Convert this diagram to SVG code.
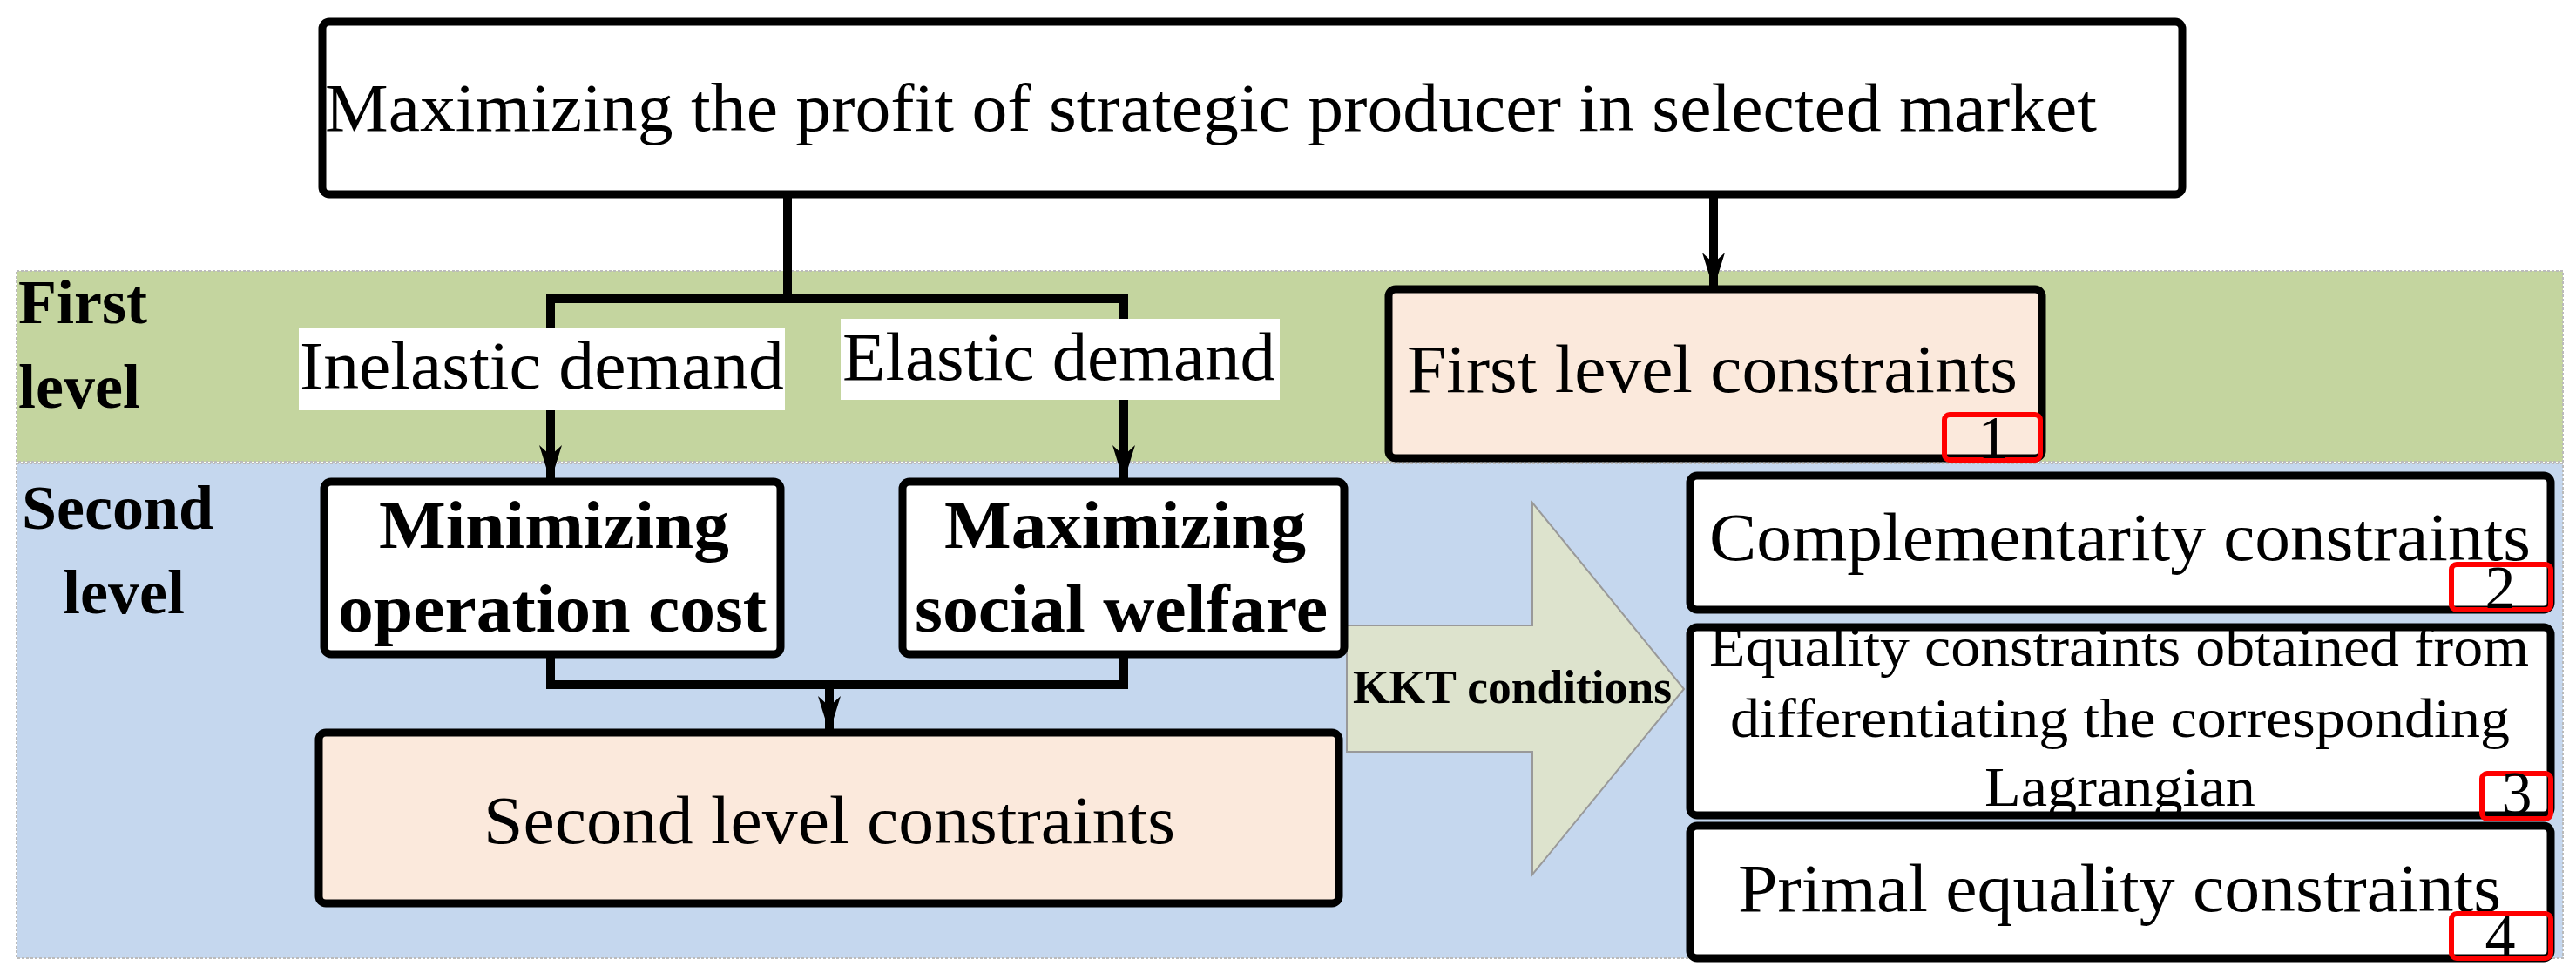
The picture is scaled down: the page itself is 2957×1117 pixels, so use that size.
<svg xmlns="http://www.w3.org/2000/svg" width="2957" height="1117" viewBox="0 0 2957 1117">
<style>
text{font-family:"Liberation Serif","Times New Roman",serif;fill:#000}
.b{fill:#fff;stroke:#000;stroke-width:9}
.p{fill:#fbe9dc;stroke:#000;stroke-width:9}
.r{fill:none;stroke:#f00;stroke-width:6}
.c{fill:none;stroke:#000;stroke-width:10}
.n{font-size:78px}
.bd{font-weight:bold}
</style>
<defs>
<marker id="ah" markerWidth="26" markerHeight="42" refX="13" refY="40" orient="0" markerUnits="userSpaceOnUse">
<path d="M0,0 L13,12 L26,0 L13,42 Z" fill="#000"/>
</marker>
</defs>
<rect x="19" y="311" width="2923" height="219" fill="#c4d59f" stroke="#bbb" stroke-width="2" stroke-dasharray="3,2"/>
<rect x="19" y="532" width="2923" height="568" fill="#c5d7ee" stroke="#bbb" stroke-width="2" stroke-dasharray="3,2"/>
<text x="21" y="371" font-size="72" class="bd">First</text>
<text x="21" y="468" font-size="72" class="bd">level</text>
<text x="25" y="607" font-size="72" class="bd">Second</text>
<text x="72" y="704" font-size="72" class="bd">level</text>
<g id="connectors">
<polyline class="c" points="904,223 904,343"/>
<polyline class="c" points="632,500 632,343 1290,343 1290,500"/>
<line class="c" x1="632" y1="500" x2="632" y2="551" marker-end="url(#ah)"/>
<line class="c" x1="1290" y1="500" x2="1290" y2="551" marker-end="url(#ah)"/>
<line class="c" x1="1967" y1="223" x2="1967" y2="330" marker-end="url(#ah)"/>
<polyline class="c" points="632,751 632,786 1290,786 1290,751"/>
<line class="c" x1="952" y1="786" x2="952" y2="839" marker-end="url(#ah)"/>
<path d="M1546,718 H1759 V577 L1933,791 L1759,1004 V863 H1546 Z" fill="#dde3cd" stroke="#999" stroke-width="2"/>
<text x="1553" y="807" font-size="54" class="bd" textLength="366" lengthAdjust="spacingAndGlyphs">KKT conditions</text>
</g>
<g id="top"><rect class="b" x="370" y="25" width="2135" height="198" rx="8"/>
<text x="373" y="150" class="n" textLength="2034" lengthAdjust="spacingAndGlyphs">Maximizing the profit of strategic producer in selected market</text></g>
<g id="inelastic"><rect x="343" y="376" width="558" height="95" fill="#fff"/>
<text x="344" y="446" class="n" textLength="556" lengthAdjust="spacingAndGlyphs">Inelastic demand</text></g>
<g id="elastic"><rect x="965" y="366" width="504" height="93" fill="#fff"/>
<text x="967" y="436" class="n" textLength="497" lengthAdjust="spacingAndGlyphs">Elastic demand</text></g>
<g id="first"><rect class="p" x="1594" y="332" width="750" height="194" rx="8"/>
<text x="1615" y="450" class="n" textLength="701" lengthAdjust="spacingAndGlyphs">First level constraints</text>
<rect class="r" x="2232" y="476" width="110" height="52" rx="6"/>
<text x="2288" y="526" font-size="70" text-anchor="middle">1</text></g>
<g id="min"><rect class="b" x="372" y="553" width="524" height="198" rx="8"/>
<text x="435" y="629" class="n bd" textLength="402" lengthAdjust="spacingAndGlyphs">Minimizing</text>
<text x="388" y="725" class="n bd" textLength="492" lengthAdjust="spacingAndGlyphs">operation cost</text></g>
<g id="max"><rect class="b" x="1036" y="553" width="507" height="198" rx="8"/>
<text x="1084" y="629" class="n bd" textLength="415" lengthAdjust="spacingAndGlyphs">Maximizing</text>
<text x="1050" y="725" class="n bd" textLength="474" lengthAdjust="spacingAndGlyphs">social welfare</text></g>
<g id="second"><rect class="p" x="366" y="841" width="1171" height="196" rx="8"/>
<text x="555" y="968" class="n" textLength="794" lengthAdjust="spacingAndGlyphs">Second level constraints</text></g>
<g id="comp"><rect class="b" x="1940" y="546" width="988" height="154" rx="8"/>
<text x="1962" y="643" class="n" textLength="943" lengthAdjust="spacingAndGlyphs">Complementarity constraints</text>
<rect class="r" x="2814" y="648" width="114" height="52" rx="6"/>
<text x="2870" y="698" font-size="70" text-anchor="middle">2</text></g>
<g id="eq"><rect class="b" x="1940" y="720" width="988" height="216" rx="8"/>
<text x="1962" y="764" font-size="64" textLength="941" lengthAdjust="spacingAndGlyphs">Equality constraints obtained from</text>
<text x="1986" y="846" font-size="64" textLength="895" lengthAdjust="spacingAndGlyphs">differentiating the corresponding</text>
<text x="2278" y="925" font-size="64" textLength="311" lengthAdjust="spacingAndGlyphs">Lagrangian</text>
<rect class="r" x="2849" y="888" width="79" height="52" rx="6"/>
<text x="2889" y="934" font-size="70" text-anchor="middle">3</text></g>
<g id="primal"><rect class="b" x="1940" y="948" width="988" height="152" rx="8"/>
<text x="1995" y="1046" class="n" textLength="876" lengthAdjust="spacingAndGlyphs">Primal equality constraints</text>
<rect class="r" x="2814" y="1049" width="114" height="51" rx="6"/>
<text x="2870" y="1098" font-size="70" text-anchor="middle">4</text></g>
</svg>
